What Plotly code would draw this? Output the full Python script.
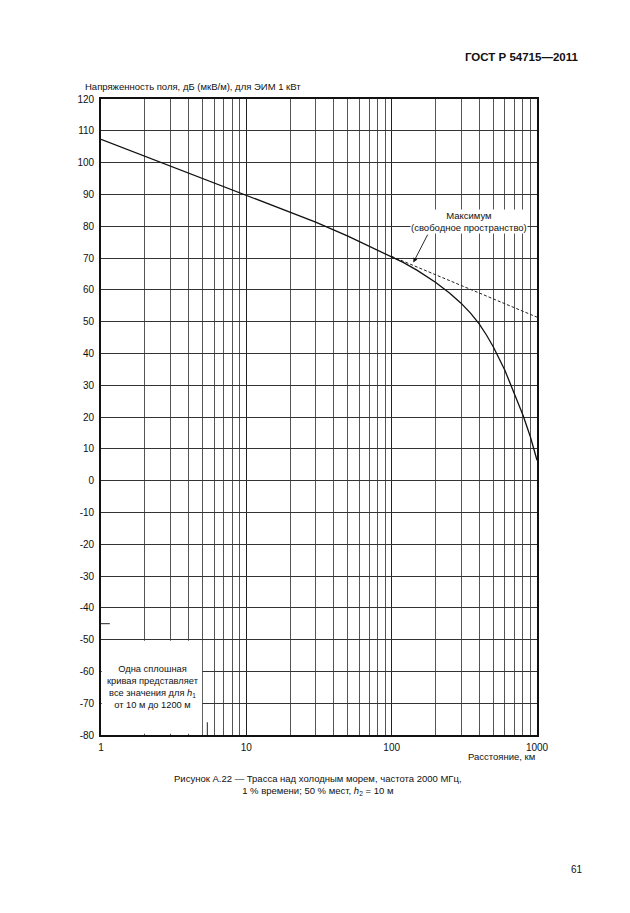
import math
import plotly.graph_objects as go

# --- data ---
distance_km = [1, 2, 3, 5, 10, 20, 30, 50, 70, 100, 120, 150, 200, 250, 300, 350,
               400, 450, 500, 600, 700, 800, 900, 1000]
field_db = [107.3, 102.0, 98.9, 95.0, 89.7, 84.4, 81.3, 76.9, 73.8, 70.4, 68.6, 66.1,
            62.4, 59.0, 55.8, 52.6, 49.3, 45.7, 42.1, 34.8, 27.5, 20.6, 13.8, 6.4]

free_space_km = [100, 1000]
free_space_db = [70.5, 51.4]

x_ticks = [1, 10, 100, 1000]
x_minor = [m * d for d in (1, 10, 100) for m in range(2, 10)]
y_ticks = list(range(-80, 130, 10))

FONT = "Liberation Sans, Arial, sans-serif"
W, H = 630, 913
# plot box in page pixels (page has an 8px body margin)
BOX_L, BOX_T, BOX_R, BOX_B = 101, 99, 537, 735
PAGE_OFF = 8
PW, PH = BOX_R - BOX_L, BOX_B - BOX_T
L, T = BOX_L - PAGE_OFF, BOX_T - PAGE_OFF
R, B = W - L - PW, H - T - PH


def px(x):
    return (x - BOX_L) / PW


def py(y):
    return (BOX_B - y) / PH


fig = go.Figure()

fig.add_trace(go.Scatter(
    x=free_space_km, y=free_space_db, mode="lines",
    line=dict(color="#222", width=1, dash="3px,2px"),
    showlegend=False, hoverinfo="skip",
))
fig.add_trace(go.Scatter(
    x=distance_km, y=field_db, mode="lines",
    line=dict(color="#111", width=1.3),
    showlegend=False, hoverinfo="skip",
))

# white box in lower left corner with the note
fig.add_shape(type="rect", xref="x", yref="y", x0=1.012, x1=4.96, y0=-79.6, y1=-50.4,
              fillcolor="white", line=dict(width=0), layer="above")
# small scan marks
fig.add_shape(type="line", xref="x", yref="y", x0=1, x1=1.15, y0=-45, y1=-45,
              line=dict(color="#222", width=1), layer="above")
fig.add_shape(type="line", xref="x", yref="y", x0=5.39, x1=5.39, y0=-76, y1=-80,
              line=dict(color="#222", width=1), layer="above")

annotations = [
    dict(xref="paper", yref="paper", x=px(580), y=py(57), xanchor="right", yanchor="middle",
         text="<b>ГОСТ Р 54715—2011</b>", showarrow=False, font=dict(size=11.5, color="#111")),
    dict(xref="paper", yref="paper", x=px(83), y=py(86), xanchor="left", yanchor="middle",
         text="Напряженность поля, дБ (мкВ/м), для ЭИМ 1 кВт", showarrow=False,
         font=dict(size=9.5, color="#111")),
    dict(xref="paper", yref="paper", x=px(537), y=py(756), xanchor="right", yanchor="middle",
         text="Расстояние, км", showarrow=False, font=dict(size=9.5, color="#111")),
    dict(xref="paper", yref="paper", x=px(318), y=py(785), xanchor="center", yanchor="middle",
         text="Рисунок А.22 — Трасса над холодным морем, частота 2000 МГц,<br>"
              "1 % времени; 50 % мест, <i>h</i><sub>2</sub> = 10 м",
         showarrow=False, font=dict(size=9.5, color="#111")),
    dict(xref="paper", yref="paper", x=px(577), y=py(869), xanchor="center", yanchor="middle",
         text="61", showarrow=False, font=dict(size=10, color="#111")),
    dict(xref="x", yref="y", x=(469 - BOX_L) / 145.3, y=81.5,
         xanchor="center", yanchor="middle",
         text="Максимум<br>(свободное пространство)", showarrow=False, bgcolor="white",
         borderpad=0, font=dict(size=9.5, color="#111")),
    dict(xref="x", yref="y", axref="x", ayref="y",
         x=math.log10(141), y=68.6, ax=math.log10(179), ay=77.8,
         text="", showarrow=True, arrowhead=2, arrowsize=1, arrowwidth=0.9, arrowcolor="#111"),
    dict(xref="x", yref="y", x=(153 - BOX_L) / 145.3, y=-65, xanchor="center", yanchor="middle",
         text="Одна сплошная<br>кривая представляет<br>все значения для <i>h</i><sub>1</sub><br>от 10 м до 1200 м",
         showarrow=False, font=dict(size=9.3, color="#111")),
]

fig.update_layout(
    width=W, height=H,
    margin=dict(l=L, r=R, t=T, b=B),
    paper_bgcolor="white", plot_bgcolor="white",
    font=dict(family=FONT, size=10, color="#111"),
    annotations=annotations,
    xaxis=dict(
        type="log", range=[0, 3],
        tickmode="array", tickvals=x_ticks, ticktext=[str(v) for v in x_ticks],
        showgrid=True, gridcolor="#222", gridwidth=1,
        minor=dict(tickmode="array", tickvals=x_minor, showgrid=True,
                   gridcolor="#555", gridwidth=1, ticks=""),
        showline=True, linecolor="#111", linewidth=1.5, mirror=True,
        ticks="", ticklabelstandoff=2, zeroline=False,
        tickfont=dict(size=10),
    ),
    yaxis=dict(
        range=[-80, 120],
        tickmode="array", tickvals=y_ticks, ticktext=[str(v) for v in y_ticks],
        showgrid=True, gridcolor="#333", gridwidth=1,
        showline=True, linecolor="#111", linewidth=1.8, mirror=True,
        ticks="", ticklabelstandoff=3, zeroline=False,
        tickfont=dict(size=10),
    ),
)

fig.write_html("out.html")
